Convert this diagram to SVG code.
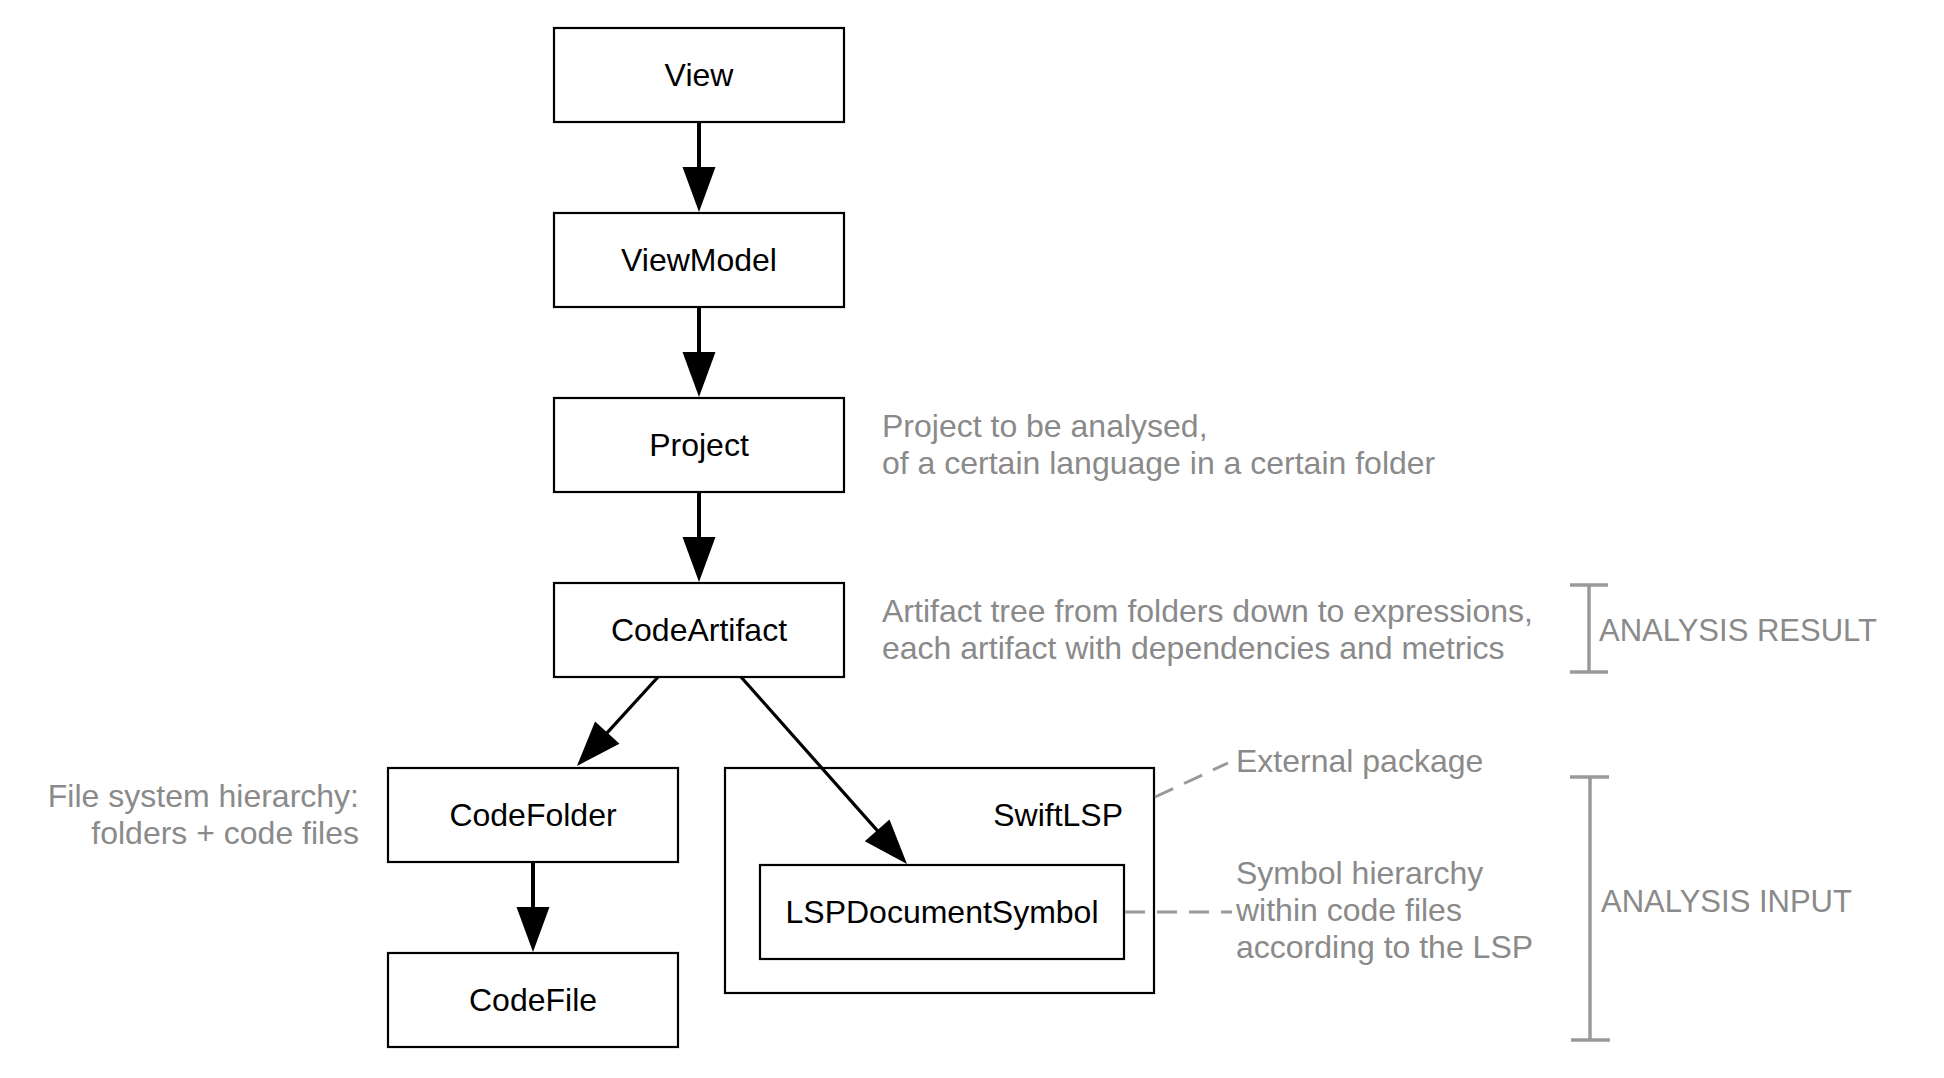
<svg xmlns="http://www.w3.org/2000/svg" width="1944" height="1078" viewBox="0 0 1944 1078">
<style>
  .box { fill: #ffffff; stroke: #000000; stroke-width: 2.2; }
  .lbl { font-family: "Liberation Sans", Arial, sans-serif; font-size: 32px; fill: #000000; text-anchor: middle; }
  .note { font-family: "Liberation Sans", Arial, sans-serif; font-size: 32px; fill: #8a8a8a; }
  .cap { font-family: "Liberation Sans", Arial, sans-serif; font-size: 31px; fill: #8a8a8a; }
  .edge { stroke: #000000; stroke-width: 4; fill: none; }
  .edge-d { stroke: #000000; stroke-width: 3.2; fill: none; }
  .dash { stroke: #999999; stroke-width: 3; stroke-dasharray: 20 12; fill: none; }
  .brk { stroke: #999999; stroke-width: 3.5; fill: none; }
</style>
<defs>
  <marker id="arr" markerUnits="userSpaceOnUse" markerWidth="50" markerHeight="40" viewBox="0 0 50 40" refX="1" refY="20" orient="auto" overflow="visible">
    <path d="M0,3.5 L45,20 L0,36.5 Z" fill="#000000"/>
  </marker>
</defs>
<rect width="1944" height="1078" fill="#ffffff"/>

<g id="node-view">
  <rect class="box" x="554" y="28" width="290" height="94"/>
  <text class="lbl" x="699" y="86">View</text>
</g>
<g id="node-viewmodel">
  <rect class="box" x="554" y="213" width="290" height="94"/>
  <text class="lbl" x="699" y="271">ViewModel</text>
</g>
<g id="node-project">
  <rect class="box" x="554" y="398" width="290" height="94"/>
  <text class="lbl" x="699" y="456">Project</text>
</g>
<g id="node-codeartifact">
  <rect class="box" x="554" y="583" width="290" height="94"/>
  <text class="lbl" x="699" y="641">CodeArtifact</text>
</g>
<g id="node-codefolder">
  <rect class="box" x="388" y="768" width="290" height="94"/>
  <text class="lbl" x="533" y="826">CodeFolder</text>
</g>
<g id="node-codefile">
  <rect class="box" x="388" y="953" width="290" height="94"/>
  <text class="lbl" x="533" y="1011">CodeFile</text>
</g>
<g id="node-swiftlsp">
  <rect class="box" x="725" y="768" width="429" height="225"/>
  <text class="lbl" x="1123" y="826" style="text-anchor:end">SwiftLSP</text>
</g>
<g id="node-lspdocumentsymbol">
  <rect class="box" x="760" y="865" width="364" height="94"/>
  <text class="lbl" x="942" y="923">LSPDocumentSymbol</text>
</g>

<g id="connectors">
  <line class="edge" x1="699" y1="122" x2="699" y2="168" marker-end="url(#arr)"/>
  <line class="edge" x1="699" y1="307" x2="699" y2="353" marker-end="url(#arr)"/>
  <line class="edge" x1="699" y1="492" x2="699" y2="538" marker-end="url(#arr)"/>
  <line class="edge" x1="533" y1="862" x2="533" y2="908" marker-end="url(#arr)"/>
  <line class="edge-d" x1="658" y1="677" x2="606.6" y2="733.4" marker-end="url(#arr)"/>
  <line class="edge-d" x1="741" y1="677" x2="877.8" y2="831.1" marker-end="url(#arr)"/>
  <line class="dash" x1="1155" y1="797" x2="1228" y2="763"/>
  <line class="dash" x1="1125" y1="912" x2="1232" y2="912"/>
</g>

<g id="annotations">
  <text class="note" x="882" y="437">Project to be analysed,</text>
  <text class="note" x="882" y="474">of a certain language in a certain folder</text>
  <text class="note" x="882" y="622">Artifact tree from folders down to expressions,</text>
  <text class="note" x="882" y="659">each artifact with dependencies and metrics</text>
  <text class="note" x="359" y="807" style="text-anchor:end">File system hierarchy:</text>
  <text class="note" x="359" y="844" style="text-anchor:end">folders + code files</text>
  <text class="note" x="1236" y="772">External package</text>
  <text class="note" x="1236" y="884">Symbol hierarchy</text>
  <text class="note" x="1236" y="921">within code files</text>
  <text class="note" x="1236" y="958">according to the LSP</text>
  <path class="brk" d="M1570,585 H1608 M1589,585 V672 M1570,672 H1608"/>
  <text class="cap" x="1599" y="641">ANALYSIS RESULT</text>
  <path class="brk" d="M1570,777 H1609 M1590,777 V1040 M1571,1040 H1610"/>
  <text class="cap" x="1601" y="912">ANALYSIS INPUT</text>
</g>
</svg>
